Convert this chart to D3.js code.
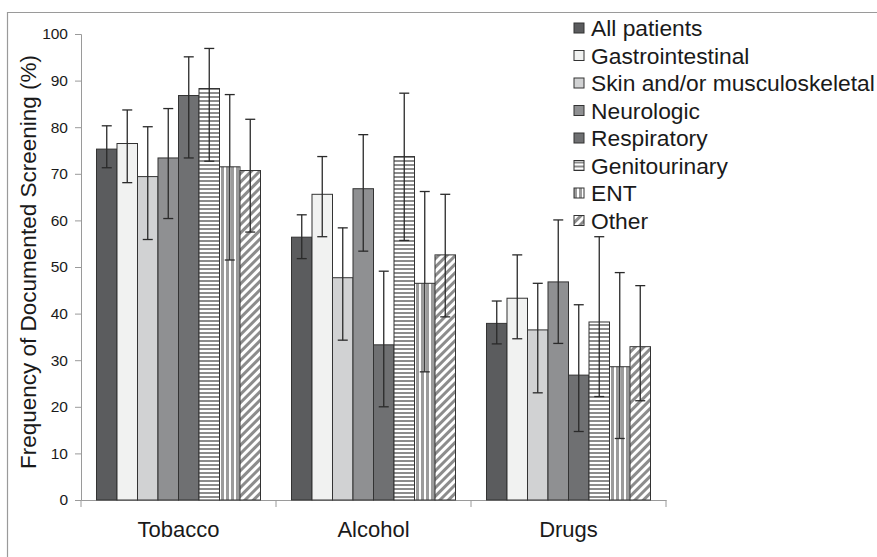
<!DOCTYPE html>
<html>
<head>
<meta charset="utf-8">
<script src="https://cdn.jsdelivr.net/npm/d3@7"></script>
<style>
  body { margin: 0; background: #fff; }
  svg text { font-family: "Liberation Sans", Arial, sans-serif; fill: #1a1a1a; }
</style>
</head>
<body>
<svg id="chart"></svg>
<script>
const categories = ["Tobacco", "Alcohol", "Drugs"];
const seriesNames = ["All patients", "Gastrointestinal", "Skin and/or musculoskeletal",
  "Neurologic", "Respiratory", "Genitourinary", "ENT", "Other"];
const yTicks = [0, 10, 20, 30, 40, 50, 60, 70, 80, 90, 100];

// bar heights, one per series
const tobacco = [75.3, 76.5, 69.4, 73.4, 86.8, 88.3, 71.5, 70.7];
const alcohol = [56.4, 65.6, 47.7, 66.8, 33.3, 73.7, 46.5, 52.6];
const drugs   = [37.9, 43.3, 36.5, 46.8, 26.8, 38.2, 28.6, 32.9];

// error bar ends
const tobaccoHi = [80.3, 83.7, 80.1, 84.0, 95.1, 96.9, 87.0, 81.7];
const tobaccoLo = [71.3, 68.1, 55.9, 60.4, 73.4, 72.7, 51.5, 57.5];
const alcoholHi = [61.2, 73.7, 58.4, 78.4, 49.1, 87.3, 66.2, 65.6];
const alcoholLo = [51.8, 56.5, 34.3, 53.4, 20.0, 55.7, 27.5, 39.3];
const drugsHi   = [42.7, 52.6, 46.5, 60.1, 41.9, 56.5, 48.8, 46.0];
const drugsLo   = [33.5, 34.6, 23.0, 33.6, 14.7, 22.2, 13.2, 21.3];

const vals = [tobacco, alcohol, drugs];
const his = [tobaccoHi, alcoholHi, drugsHi];
const los = [tobaccoLo, alcoholLo, drugsLo];

const W = 877, H = 557;
const svg = d3.select("#chart").attr("width", W).attr("height", H);

// outer frame (only top and left edges show)
svg.append("path")
  .attr("d", `M7.5,${H} V12.5 H${W}`)
  .attr("fill", "none").attr("stroke", "#9a9a9a").attr("stroke-width", 1.2);

const defs = svg.append("defs");
const hp = defs.append("pattern").attr("id", "pHoriz").attr("patternUnits", "userSpaceOnUse")
  .attr("width", 4).attr("height", 4);
hp.append("rect").attr("width", 4).attr("height", 4).attr("fill", "#fff");
hp.append("rect").attr("width", 4).attr("height", 2).attr("fill", "#8c8c8c");

const vp = defs.append("pattern").attr("id", "pVert").attr("patternUnits", "userSpaceOnUse")
  .attr("width", 5).attr("height", 5);
vp.append("rect").attr("width", 5).attr("height", 5).attr("fill", "#fff");
vp.append("rect").attr("width", 3).attr("height", 5).attr("fill", "#9b9b9b");

const dp = defs.append("pattern").attr("id", "pDiag").attr("patternUnits", "userSpaceOnUse")
  .attr("width", 6).attr("height", 6).attr("patternTransform", "rotate(45)");
dp.append("rect").attr("width", 6).attr("height", 6).attr("fill", "#fff");
dp.append("rect").attr("width", 3).attr("height", 6).attr("fill", "#8c8c8c");

const fills = ["#5b5c5e", "#f1f2f1", "#d1d2d3", "#8f9092", "#6f7072",
  "url(#pHoriz)", "url(#pVert)", "url(#pDiag)"];

const x0 = d3.scaleBand().domain(categories).range([81, 666]).paddingInner(0).paddingOuter(0);
const x1 = d3.scaleBand().domain(d3.range(seriesNames.length)).range([0, x0.bandwidth()])
  .paddingInner(0).paddingOuter(0.756);
const y = d3.scaleLinear().domain([0, 100]).range([500, 34]);

// y axis
const yAxis = svg.append("g").attr("transform", "translate(81,0)")
  .call(d3.axisLeft(y).tickValues(yTicks).tickSize(6).tickPadding(7));
yAxis.select(".domain").attr("stroke", "#9a9a9a");
yAxis.selectAll(".tick line").attr("stroke", "#9a9a9a");
yAxis.selectAll("text").style("font-size", "15.5px").attr("fill", "#1a1a1a");

// x axis
const xAxis = svg.append("g").attr("transform", "translate(0,500)")
  .call(d3.axisBottom(x0).tickSize(0).tickSizeOuter(0).tickFormat(""));
xAxis.select(".domain").attr("stroke", "#9a9a9a");
const sep = [81].concat(categories.map(c => x0(c) + x0.bandwidth()));
svg.selectAll(".sep").data(sep).enter().append("line")
  .attr("x1", d => d).attr("x2", d => d).attr("y1", 500).attr("y2", 507)
  .attr("stroke", "#9a9a9a");
svg.selectAll(".cat").data(categories).enter().append("text")
  .attr("x", d => x0(d) + x0.bandwidth() / 2).attr("y", 537)
  .attr("text-anchor", "middle").style("font-size", "22px").text(d => d);

// y title
svg.append("text")
  .attr("transform", "translate(36,262) rotate(-90)")
  .attr("text-anchor", "middle").style("font-size", "22.5px")
  .text("Frequency of Documented Screening (%)");

// bars
const groups = svg.selectAll(".grp").data(categories).enter().append("g")
  .attr("transform", d => `translate(${x0(d)},0)`);

groups.each(function (cat, ci) {
  const g = d3.select(this);
  const rows = seriesNames.map((s, i) => ({ i, v: vals[ci][i], hi: his[ci][i], lo: los[ci][i] }));
  g.selectAll("rect").data(rows).enter().append("rect")
    .attr("x", d => x1(d.i)).attr("y", d => y(d.v))
    .attr("width", x1.bandwidth()).attr("height", d => y(0) - y(d.v))
    .attr("fill", d => fills[d.i]).attr("stroke", "#333").attr("stroke-width", 1);
  const eb = g.selectAll(".eb").data(rows).enter().append("g")
    .attr("stroke", "#2a2a2a").attr("stroke-width", 1.3);
  eb.append("line")
    .attr("x1", d => x1(d.i) + x1.bandwidth() / 2).attr("x2", d => x1(d.i) + x1.bandwidth() / 2)
    .attr("y1", d => y(d.hi)).attr("y2", d => y(d.lo));
  eb.append("line")
    .attr("x1", d => x1(d.i) + x1.bandwidth() / 2 - 5).attr("x2", d => x1(d.i) + x1.bandwidth() / 2 + 5)
    .attr("y1", d => y(d.hi)).attr("y2", d => y(d.hi));
  eb.append("line")
    .attr("x1", d => x1(d.i) + x1.bandwidth() / 2 - 5).attr("x2", d => x1(d.i) + x1.bandwidth() / 2 + 5)
    .attr("y1", d => y(d.lo)).attr("y2", d => y(d.lo));
});

// legend
const legend = svg.append("g").attr("transform", "translate(574,28)");
const li = legend.selectAll(".li").data(seriesNames).enter().append("g")
  .attr("transform", (d, i) => `translate(0,${i * 27.5})`);
li.append("rect").attr("x", 0).attr("y", -5).attr("width", 10).attr("height", 10)
  .attr("fill", (d, i) => fills[i]).attr("stroke", "#333").attr("stroke-width", 1);
li.append("text").attr("x", 17).attr("y", 8).style("font-size", "22.8px").text(d => d);
</script>
</body>
</html>
